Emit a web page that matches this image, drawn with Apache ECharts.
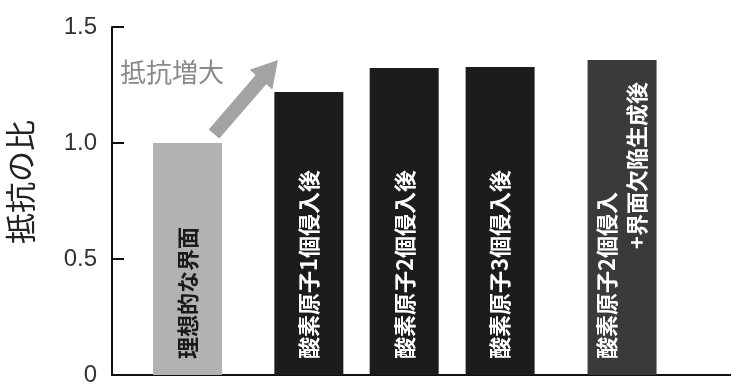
<!DOCTYPE html>
<html><head><meta charset="utf-8">
<script src="https://cdn.jsdelivr.net/npm/echarts@6/dist/echarts.min.js"></script>
<style>html,body{margin:0;padding:0;background:#fff}#c{width:731px;height:385px}</style>
</head><body><div id="c"></div>
<script>
const categories = ['理想的な界面', '酸素原子1個侵入後', '酸素原子2個侵入後', '酸素原子3個侵入後', '酸素原子2個侵入\n+界面欠陥生成後'];
const values = [1.0, 1.22, 1.323, 1.328, 1.358];
const positions = [12.2, 31.8, 47.2, 62.7, 82.4];
const yTickLabels = ['0', '0.5', '1.0', '1.5'];
const yAxisTitle = '抵抗の比';
const arrowText = '抵抗増大';

const barColors = ['#b2b2b2', '#1c1c1c', '#1c1c1c', '#1c1c1c', '#3a3a3a'];
const labelColors = ['#1a1a1a', '#ffffff', '#ffffff', '#ffffff', '#ffffff'];
const cjk = '"Noto Sans CJK JP", "Noto Sans", sans-serif';

const chart = echarts.init(document.getElementById('c'));

function arrowPoints(sx, sy, ex, ey, shaftHalf, headHalf, headLen) {
  const dx = ex - sx, dy = ey - sy, L = Math.hypot(dx, dy);
  const ux = dx / L, uy = dy / L, nx = -uy, ny = ux;
  const bx = ex - ux * headLen, by = ey - uy * headLen;
  return [
    [sx + nx * shaftHalf, sy + ny * shaftHalf],
    [bx + nx * shaftHalf, by + ny * shaftHalf],
    [bx + nx * headHalf, by + ny * headHalf],
    [ex, ey],
    [bx - nx * headHalf, by - ny * headHalf],
    [bx - nx * shaftHalf, by - ny * shaftHalf],
    [sx - nx * shaftHalf, sy - ny * shaftHalf]
  ];
}

chart.setOption({
  animation: false,
  grid: { left: 112, right: 0, top: 27, bottom: 10, containLabel: false, outerBoundsMode: 'none' },
  xAxis: {
    type: 'value', min: 0, max: 100,
    axisLine: { show: true, onZero: false, lineStyle: { color: '#111', width: 2 } },
    axisTick: { show: false }, axisLabel: { show: false }, splitLine: { show: false }
  },
  yAxis: {
    type: 'value', min: 0, max: 1.5, interval: 0.5,
    name: yAxisTitle, nameLocation: 'middle', nameGap: 76, nameRotate: 90,
    nameTextStyle: { fontFamily: cjk, fontSize: 31, color: '#222', padding: [0, 0, 0, 38] },
    axisLine: { show: true, lineStyle: { color: '#111', width: 2 } },
    axisTick: { show: true, inside: true, length: 12, lineStyle: { color: '#111', width: 2 } },
    axisLabel: {
      margin: 15, fontSize: 24, color: '#333', fontFamily: '"Liberation Sans", Arial, sans-serif',
      formatter: v => yTickLabels[Math.round(v / 0.5)]
    },
    splitLine: { show: false }
  },
  series: [{
    type: 'bar',
    barWidth: 69,
    data: categories.map((c, i) => ({
      name: c,
      value: [positions[i], values[i]],
      itemStyle: { color: barColors[i] },
      label: { color: labelColors[i] }
    })),
    label: {
      show: true,
      position: 'insideBottom',
      rotate: 90,
      align: 'left',
      verticalAlign: 'middle',
      distance: 16,
      fontFamily: cjk,
      fontSize: 22,
      fontWeight: 'bold',
      lineHeight: 30,
      formatter: p => p.name.replace('\n', '\n　　　　　')
    }
  }],
  graphic: [
    {
      type: 'polygon',
      shape: { points: arrowPoints(214, 134, 278, 60, 7, 15, 26) },
      style: { fill: '#a3a3a3' }
    },
    {
      type: 'text', left: 120, top: 59,
      style: { text: arrowText, font: '26px ' + cjk, fill: '#8a8a8a' }
    }
  ]
});
</script></body></html>
